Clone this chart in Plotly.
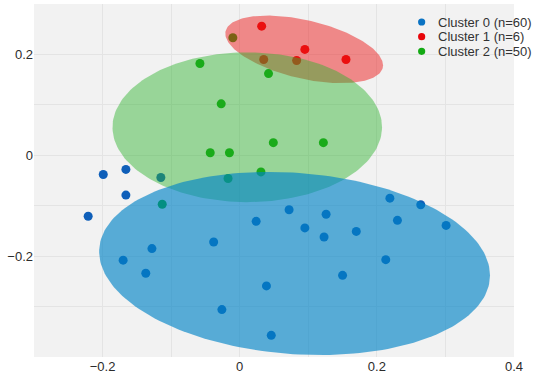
import numpy as np
import plotly.graph_objects as go

# ---- data ----
cluster_names = ["Cluster 0 (n=60)", "Cluster 1 (n=6)", "Cluster 2 (n=50)"]

c0_x = [-0.199, -0.166, -0.115, -0.166, -0.221, 0.024, -0.038, -0.128, -0.170, -0.137,
        0.039, -0.026, 0.046, 0.072, 0.095, 0.126, 0.123, 0.170, 0.219, 0.264,
        0.230, 0.301, 0.213, 0.150]
c0_y = [-0.038, -0.028, -0.044, -0.079, -0.121, -0.131, -0.172, -0.185, -0.208, -0.234,
        -0.259, -0.306, -0.357, -0.108, -0.144, -0.117, -0.162, -0.151, -0.085, -0.098,
        -0.129, -0.139, -0.207, -0.238]

c1_x = [0.032, 0.095, 0.155, 0.035, 0.083]
c1_y = [0.256, 0.210, 0.190, 0.190, 0.188]

c2_x = [-0.058, 0.042, -0.027, -0.043, -0.015, 0.049, 0.122, 0.031, -0.017, -0.113, -0.010]
c2_y = [0.182, 0.162, 0.102, 0.005, 0.005, 0.025, 0.025, -0.033, -0.046, -0.097, 0.233]

# ellipse parameters per cluster: centre, half-extent x, half-extent y, correlation
ell_cx = [0.080, 0.094, 0.011]
ell_cy = [-0.2145, 0.210, 0.0556]
ell_sx = [0.285, 0.115, 0.1965]
ell_sy = [0.1816, 0.067, 0.1485]
ell_rho = [-0.13, -0.47, 0.0]

x_ticks = [-0.2, 0, 0.2, 0.4]
y_ticks = [-0.2, 0, 0.2]

# ---- style ----
point_colors = ["rgb(15,95,185)", "rgb(235,0,0)", "rgb(10,165,10)"]
legend_colors = ["rgb(10,115,195)", "rgb(232,5,10)", "rgb(20,170,20)"]
fill_colors = ["rgba(0,132,198,0.64)", "rgba(235,30,30,0.5)", "rgba(45,178,45,0.46)"]

fig = go.Figure()

pts = [(c0_x, c0_y), (c1_x, c1_y), (c2_x, c2_y)]
for i, (xs, ys) in enumerate(pts):
    fig.add_trace(go.Scatter(
        x=xs, y=ys, mode="markers", name=cluster_names[i],
        marker=dict(size=9, color=point_colors[i]),
        showlegend=False,
    ))

# ellipses drawn above the points: red, then green, then blue
t = np.linspace(0, 2 * np.pi, 200)
for i in [1, 2, 0]:
    r = ell_rho[i]
    ex = ell_cx[i] + ell_sx[i] * np.cos(t)
    ey = ell_cy[i] + ell_sy[i] * (r * np.cos(t) + np.sqrt(1 - r * r) * np.sin(t))
    fig.add_trace(go.Scatter(
        x=ex, y=ey, mode="lines", fill="toself", fillcolor=fill_colors[i],
        line=dict(width=0), showlegend=False, hoverinfo="skip",
    ))

# compact legend (dot + label) in paper coordinates
shapes = []
annotations = []
leg_dot_x = 0.8076
leg_text_x = 0.8385
leg_y0 = 0.949
leg_step = 0.0415
for i, name in enumerate(cluster_names):
    yy = leg_y0 - i * leg_step
    shapes.append(dict(
        type="circle", xref="paper", yref="paper",
        xsizemode="pixel", ysizemode="pixel",
        xanchor=leg_dot_x, yanchor=yy, x0=-3.6, x1=3.6, y0=-3.6, y1=3.6,
        fillcolor=legend_colors[i], line=dict(width=0), layer="above",
    ))
    annotations.append(dict(
        xref="paper", yref="paper", x=leg_text_x, y=yy,
        xanchor="left", yanchor="middle", text=name, showarrow=False,
        font=dict(size=13, color="#333333"),
    ))

grid = "#e4e4e4"
fig.update_layout(
    width=550, height=378,
    margin=dict(l=34, r=36, t=4, b=21),
    paper_bgcolor="white",
    plot_bgcolor="#f2f2f2",
    font=dict(family="Liberation Sans, Arial, sans-serif", size=13, color="#2b2b2b"),
    showlegend=False,
    shapes=shapes,
    annotations=annotations,
    xaxis=dict(
        range=[-0.3, 0.4], tickvals=x_ticks, showgrid=True, gridcolor=grid,
        zeroline=False, showline=False, ticks="", automargin=False,
        minor=dict(dtick=0.1, tick0=0, showgrid=True, gridcolor=grid),
    ),
    yaxis=dict(
        range=[-0.4, 0.3], tickvals=y_ticks, showgrid=True, gridcolor=grid,
        zeroline=False, showline=False, ticks="", automargin=False,
        minor=dict(dtick=0.1, tick0=0, showgrid=True, gridcolor=grid),
    ),
)

fig.write_html(
    "out.html",
    config={"displayModeBar": False},
    post_script="document.body.style.margin='0';",
)
